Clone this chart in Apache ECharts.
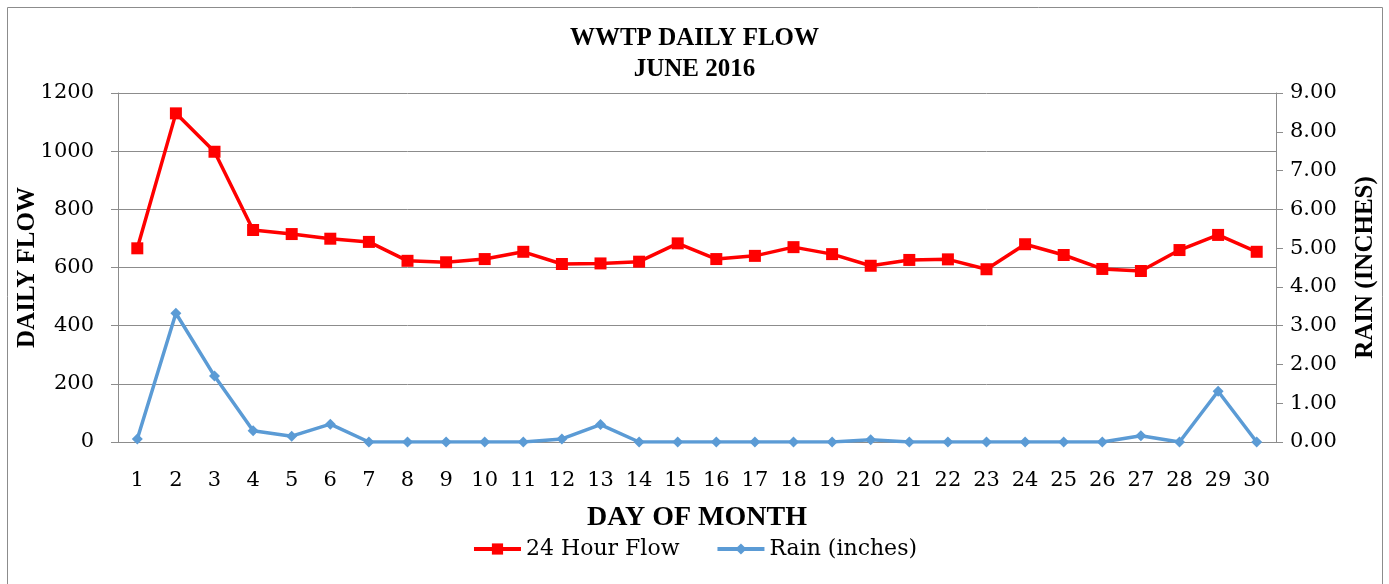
<!DOCTYPE html>
<html><head><meta charset="utf-8">
<script src="https://cdn.jsdelivr.net/npm/echarts@6/dist/echarts.min.js"></script>
<style>html,body{margin:0;padding:0;background:#fff}#c{width:1389px;height:584px}</style>
</head><body><div id="c"></div>
<script>
const days = ['1','2','3','4','5','6','7','8','9','10','11','12','13','14','15','16','17','18','19','20','21','22','23','24','25','26','27','28','29','30'];
const flow = [666,1130,998,729,715,699,688,623,618,629,654,612,614,620,683,629,640,670,646,606,626,628,594,680,643,595,588,660,712,654];
const rain = [0.08,3.32,1.70,0.29,0.15,0.46,0,0,0,0,0,0.08,0.45,0,0,0,0,0,0,0.06,0,0,0,0,0,0,0.16,0,1.31,0];
const BOLD = '"Liberation Serif", serif';
const REG = '"DejaVu Serif", serif';
const chart = echarts.init(document.getElementById('c'));
chart.setOption({
  animation: false,
  textStyle: {fontFamily: REG, color: '#000'},
  graphic: [{type:'rect', shape:{x:7.5,y:7.5,width:1375,height:600}, style:{fill:'none', stroke:'#8c8c8c', lineWidth:1}, silent:true}],
  title: {text: 'WWTP DAILY FLOW\nJUNE 2016', left: 'center', top: 18,
    textStyle: {fontFamily: BOLD, fontSize: 25, fontWeight: 'bold', color: '#000', lineHeight: 31}},
  grid: {left: 118, right: 113, top: 93, bottom: 142, outerBoundsMode: 'none', containLabel: false},
  legend: {bottom: 19, left: 'center', itemWidth: 47, itemHeight: 14, itemGap: 36,
    textStyle: {fontFamily: REG, fontSize: 22, color: '#000'},
    lineStyle: {width: 4},
    data: ['24 Hour Flow', 'Rain (inches)']},
  xAxis: {type: 'category', data: days, boundaryGap: true,
    name: 'DAY OF MONTH', nameLocation: 'middle', nameGap: 62,
    nameTextStyle: {fontFamily: BOLD, fontSize: 28, fontWeight: 'bold', color: '#000'},
    axisLine: {lineStyle: {color: '#8c8c8c', width: 1}},
    axisTick: {alignWithLabel: false, length: 7, lineStyle: {color: '#8c8c8c'}},
    axisLabel: {fontFamily: REG, fontSize: 21, color: '#000', margin: 28}},
  yAxis: [
    {type: 'value', min: 0, max: 1200, interval: 200, position: 'left',
     name: 'DAILY FLOW', nameLocation: 'middle', nameGap: 78, nameRotate: 90, nameMoveOverlap: false,
     nameTextStyle: {fontFamily: BOLD, fontSize: 25, fontWeight: 'bold', color: '#000'},
     axisLine: {show: true, lineStyle: {color: '#8c8c8c'}},
     axisTick: {show: true, length: 7, lineStyle: {color: '#8c8c8c'}},
     axisLabel: {fontFamily: REG, fontSize: 21, color: '#000', margin: 24, formatter: v => String(v)},
     splitLine: {show: true, lineStyle: {color: '#8c8c8c', width: 1}}},
    {type: 'value', min: 0, max: 9, interval: 1, position: 'right',
     name: 'RAIN (INCHES)', nameLocation: 'middle', nameGap: 77, nameRotate: 90,
     nameTextStyle: {fontFamily: BOLD, fontSize: 25, fontWeight: 'bold', color: '#000'},
     axisLine: {show: true, lineStyle: {color: '#8c8c8c'}},
     axisTick: {show: true, length: 7, lineStyle: {color: '#8c8c8c'}},
     axisLabel: {fontFamily: REG, fontSize: 21, color: '#000', margin: 14,
       formatter: v => v.toFixed(2)},
     splitLine: {show: false}}
  ],
  series: [
    {name: '24 Hour Flow', type: 'line', yAxisIndex: 0, data: flow,
     symbol: 'rect', symbolSize: 12, lineStyle: {color: '#ff0000', width: 3.5},
     itemStyle: {color: '#ff0000'}},
    {name: 'Rain (inches)', type: 'line', yAxisIndex: 1, data: rain,
     symbol: 'diamond', symbolSize: 11, lineStyle: {color: '#5b9bd5', width: 3.5},
     itemStyle: {color: '#5b9bd5'}}
  ]
});
</script></body></html>
